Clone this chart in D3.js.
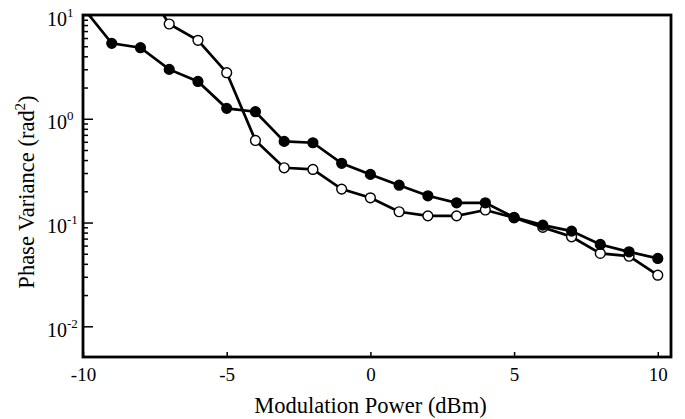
<!DOCTYPE html>
<html>
<head>
<meta charset="utf-8">
<script src="https://cdn.jsdelivr.net/npm/d3@7"></script>
<style>
	body { margin: 0; background: #fff; }
	svg { display: block; }
	svg text { font-family: "Liberation Serif", "Times New Roman", "DejaVu Serif", serif; }
</style>
</head>
<body>
<svg width="685" height="419"></svg>
<script>
// modulation power (dBm)
const powerFilled = [-10, -9, -8, -7, -6, -5, -4, -3, -2, -1, 0, 1, 2, 3, 4, 5, 6, 7, 8, 9, 10];
const varianceFilled = [11.8, 5.33, 4.84, 2.99, 2.29, 1.26, 1.17, 0.605, 0.587, 0.372, 0.291,
	0.229, 0.181, 0.155, 0.155, 0.112, 0.0944, 0.0826, 0.0615, 0.0522, 0.0451];

const powerOpen = [-8, -7, -6, -5, -4, -3, -2, -1, 0, 1, 2, 3, 4, 5, 6, 7, 8, 9, 10];
const varianceOpen = [22, 8.19, 5.70, 2.78, 0.618, 0.337, 0.325, 0.21, 0.173, 0.127, 0.116,
	0.116, 0.132, 0.111, 0.0898, 0.0728, 0.0504, 0.0474, 0.0311];

const xTicks = [-10, -5, 0, 5, 10];
const yDecades = [-2, -1, 0, 1];

const svg = d3.select("svg");
const mLeft = 83, mRight = 671, mTop = 15, mBottom = 357;
const serif = "'Liberation Serif', 'Times New Roman', 'DejaVu Serif', serif";

const x = d3.scaleLinear().domain([-10, 10.46]).range([mLeft, mRight]);
const y = d3.scaleLog().domain([0.00506, 10]).range([mBottom, mTop]);

svg.append("defs").append("clipPath")
	.attr("id", "clip")
	.append("rect")
	.attr("x", mLeft).attr("y", mTop)
	.attr("width", mRight - mLeft).attr("height", mBottom - mTop);

// minor ticks on y
const minor = [];
yDecades.forEach(d => {
	for (let k = 2; k <= 9; k++) {
		const v = k * Math.pow(10, d);
		if (v > y.domain()[0] && v < y.domain()[1]) minor.push(v);
	}
});

svg.append("g")
	.attr("transform", `translate(${mLeft},0)`)
	.call(d3.axisLeft(y).tickValues(minor).tickSize(-5).tickFormat(""));

const gY = svg.append("g")
	.attr("transform", `translate(${mLeft},0)`)
	.call(d3.axisLeft(y).tickValues(yDecades.map(d => Math.pow(10, d)))
		.tickSizeInner(-10).tickSizeOuter(0).tickPadding(0));

gY.attr("font-family", serif);
gY.selectAll(".tick text").each(function(v) {
	const t = d3.select(this);
	const e = Math.round(Math.log10(v));
	t.text(null)
		.attr("x", -36)
		.attr("dy", null)
		.attr("y", 10)
		.attr("text-anchor", "start")
		.attr("font-size", 20)
		.attr("font-family", serif)
		.attr("fill", "#000");
	t.append("tspan").text("10");
	t.append("tspan").attr("font-size", 13).attr("dy", -9).text(e < 0 ? "-" + (-e) : e);
});

const gX = svg.append("g")
	.attr("transform", `translate(0,${mBottom})`)
	.call(d3.axisBottom(x).tickValues(xTicks).tickSizeInner(-5).tickSizeOuter(0).tickPadding(0));

gX.attr("font-family", serif);
gX.selectAll(".tick text")
	.attr("y", 24)
	.attr("dy", null)
	.attr("font-size", 19)
	.attr("font-family", serif)
	.attr("fill", "#000")
	.text(d => d);

svg.selectAll(".domain").remove();
svg.selectAll(".tick line").attr("stroke", "#000").attr("stroke-width", 1.5);

// frame
svg.append("rect")
	.attr("x", mLeft).attr("y", mTop)
	.attr("width", mRight - mLeft).attr("height", mBottom - mTop)
	.attr("fill", "none")
	.attr("stroke", "#000")
	.attr("stroke-width", 2.8);

const plot = svg.append("g").attr("clip-path", "url(#clip)");

const line = d3.line()
	.x(d => x(d[0]))
	.y(d => y(d[1]));

function drawSeries(xs, ys, fill) {
	const pts = xs.map((p, i) => [p, ys[i]]);
	plot.append("path")
		.datum(pts)
		.attr("d", line)
		.attr("fill", "none")
		.attr("stroke", "#000")
		.attr("stroke-width", 2.7);
	plot.selectAll(null)
		.data(pts)
		.enter().append("circle")
		.attr("cx", d => x(d[0]))
		.attr("cy", d => y(d[1]))
		.attr("r", 4.9)
		.attr("fill", fill)
		.attr("stroke", "#000")
		.attr("stroke-width", 1.4);
}

drawSeries(powerOpen, varianceOpen, "#fff");
drawSeries(powerFilled, varianceFilled, "#000");

// axis titles
svg.append("text")
	.attr("x", (mLeft + x(10)) / 2)
	.attr("y", 413)
	.attr("text-anchor", "middle")
	.attr("font-family", serif)
	.attr("font-size", 22.5)
	.text("Modulation Power (dBm)");

const yt = svg.append("text")
	.attr("transform", `translate(34,${(mTop + mBottom) / 2 + 6}) rotate(-90)`)
	.attr("text-anchor", "middle")
	.attr("font-family", serif)
	.attr("font-size", 22.5);
yt.append("tspan").text("Phase Variance (rad");
yt.append("tspan").attr("font-size", 15).attr("dy", -9).text("2");
yt.append("tspan").attr("dy", 9).text(")");
</script>
</body>
</html>
